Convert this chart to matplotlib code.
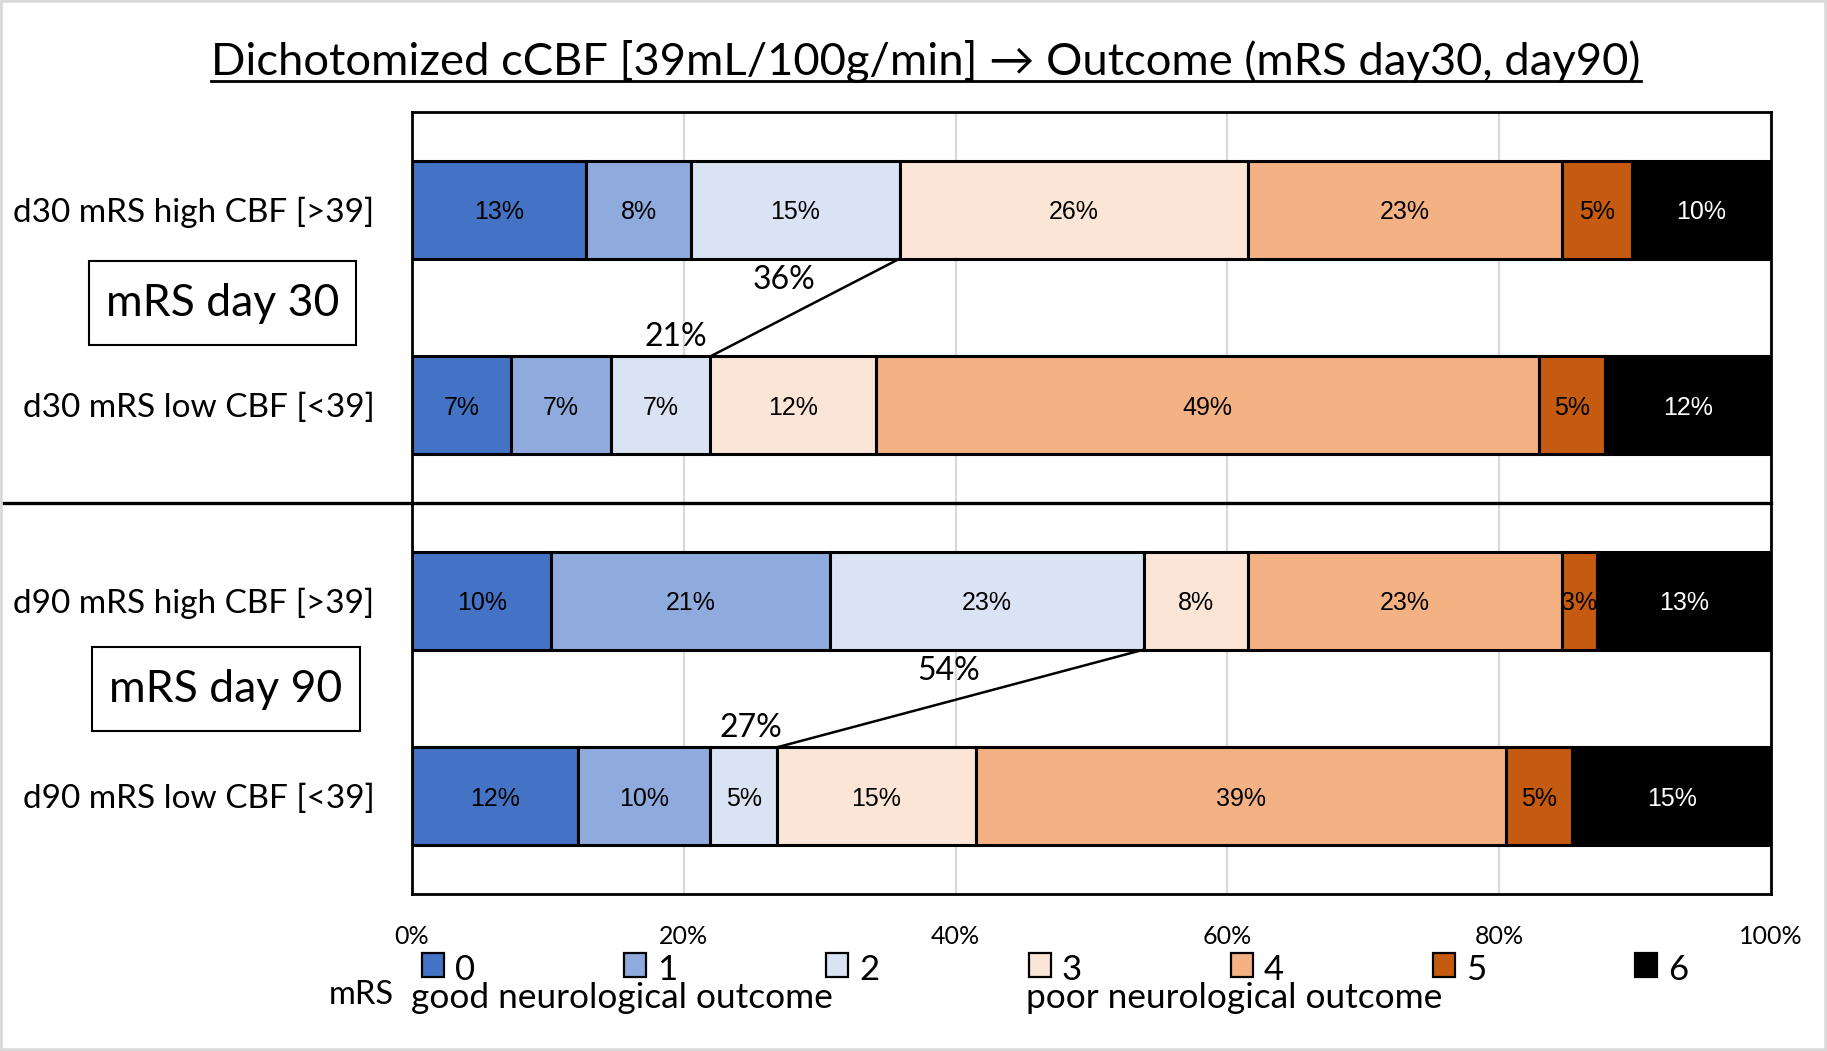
import matplotlib
matplotlib.use("Agg")
import matplotlib.pyplot as plt
import matplotlib.transforms as mtransforms
from matplotlib.patches import Rectangle
from matplotlib.lines import Line2D

# data: share of patients per mRS grade (%)
rows = ["d30 mRS high CBF [>39]", "d30 mRS low CBF [<39]",
        "d90 mRS high CBF [>39]", "d90 mRS low CBF [<39]"]
mrs_grades = ["0", "1", "2", "3", "4", "5", "6"]
colors = ["#4472C4", "#8FAADC", "#DAE3F3", "#FBE5D6", "#F4B183", "#C55A11", "#000000"]

d30_high = [12.82, 7.69, 15.38, 25.64, 23.08, 5.13, 10.26]
d30_low = [7.32, 7.32, 7.32, 12.20, 48.78, 4.88, 12.20]
d90_high = [10.26, 20.51, 23.08, 7.69, 23.08, 2.56, 12.82]
d90_low = [12.20, 9.76, 4.88, 14.63, 39.02, 4.88, 14.63]

# mRS 0-2 labels on the connector lines (high, low)
good_labels = [("36%", "21%"), ("54%", "27%")]
good_label_pos = [((27.4, 0.36), (19.4, 0.65)), ((39.5, 2.36), (24.9, 2.65))]

x_ticks = [0, 20, 40, 60, 80, 100]
x_ticklabels = ["0%", "20%", "40%", "60%", "80%", "100%"]

CAL = ["Lato", "DejaVu Sans"]
ARI = ["Liberation Sans", "DejaVu Sans"]

W, H = 1827, 1051
fig = plt.figure(figsize=(W / 100, H / 100), dpi=100)
ax = fig.add_axes([412 / W, 1 - 894 / H, 1359 / W, 782 / H])

data = [d30_high, d30_low, d90_high, d90_low]
for r, vals in enumerate(data):
    left = 0
    for i, v in enumerate(vals):
        ax.barh(r, v, left=left, height=0.5, color=colors[i],
                edgecolor="black", linewidth=2.2, zorder=3)
        ax.text(left + v / 2, r, f"{v:.0f}%", ha="center", va="center_baseline",
                fontsize=18, family=ARI,
                color="white" if i == 6 else "black", zorder=4)
        left += v

# connectors for good outcome (mRS 0-2)
for k, (hi, lo) in enumerate([(0, 1), (2, 3)]):
    x_hi = sum(data[hi][:3])
    x_lo = sum(data[lo][:3])
    ax.plot([x_hi, x_lo], [hi + 0.25, lo - 0.25], color="black", lw=1.8, zorder=4)
    for lab, pos in zip(good_labels[k], good_label_pos[k]):
        ax.text(pos[0], pos[1], lab, ha="center", va="center", fontsize=23,
                family=CAL, zorder=5)

ax.set_xlim(0, 100)
ax.set_ylim(3.5, -0.5)
ax.set_xticks(x_ticks)
ax.set_xticklabels(x_ticklabels, family=CAL, fontsize=18)
ax.set_yticks(range(len(rows)))
ax.set_yticklabels(rows, family=CAL, fontsize=24)
ax.tick_params(axis="x", length=0, pad=22)
ax.tick_params(axis="y", length=0, pad=27)
ax.set_axisbelow(True)
ax.xaxis.grid(True, color="#D9D9D9", lw=1.6, zorder=0)
for s in ax.spines.values():
    s.set_linewidth(2)
    s.set_color("black")

# divider between day 30 and day 90
trans = mtransforms.blended_transform_factory(fig.transFigure, ax.transData)
fig.add_artist(Line2D([0.002, 1771 / W], [1.5, 1.5], transform=trans,
                      color="black", lw=2.4))

# group boxes
for txt, (x0, y0, x1, y1) in [("mRS day 30", (89, 261, 356, 345)),
                              ("mRS day 90", (92, 647, 360, 731))]:
    fig.add_artist(Rectangle((x0 / W, 1 - y1 / H), (x1 - x0) / W, (y1 - y0) / H,
                             transform=fig.transFigure, fill=False,
                             ec="black", lw=1.5))
    fig.text((x0 + x1) / 2 / W, 1 - (y0 + y1) / 2 / H, txt, ha="center",
             va="center", fontsize=32, family=CAL)

# title with underline
title = fig.text(926 / W, 1 - 75 / H,
                 "Dichotomized cCBF [39mL/100g/min] \u2192 Outcome (mRS day30, day90)",
                 ha="center", va="baseline", fontsize=32.7, family=CAL)

# legend
for i, g in enumerate(mrs_grades):
    x0 = 422 + i * 202.2
    fig.add_artist(Rectangle((x0 / W, 1 - 977 / H), 22 / W, 24 / H,
                             transform=fig.transFigure, fc=colors[i],
                             ec="black", lw=1.6))
    fig.text((x0 + 33) / W, 1 - 980 / H, g, ha="left", va="baseline",
             fontsize=25, family=CAL)
fig.text(329 / W, 1 - 1004 / H, "mRS", ha="left", va="baseline", fontsize=23.5, family=CAL)
fig.text(411 / W, 1 - 1008 / H, "good neurological outcome", ha="left",
         va="baseline", fontsize=25.4, family=CAL)
fig.text(1026 / W, 1 - 1008 / H, "poor neurological outcome", ha="left",
         va="baseline", fontsize=25.4, family=CAL)

# outer frame
fig.add_artist(Rectangle((0, 0), 1, 1, transform=fig.transFigure, fill=False,
                         ec="#D9D9D9", lw=4))

fig.canvas.draw()
bb = title.get_window_extent().transformed(fig.transFigure.inverted())
fig.add_artist(Line2D([bb.x0, bb.x1], [1 - 81 / H, 1 - 81 / H],
                      transform=fig.transFigure, color="black", lw=2))

fig.savefig("out.png", dpi=100)
